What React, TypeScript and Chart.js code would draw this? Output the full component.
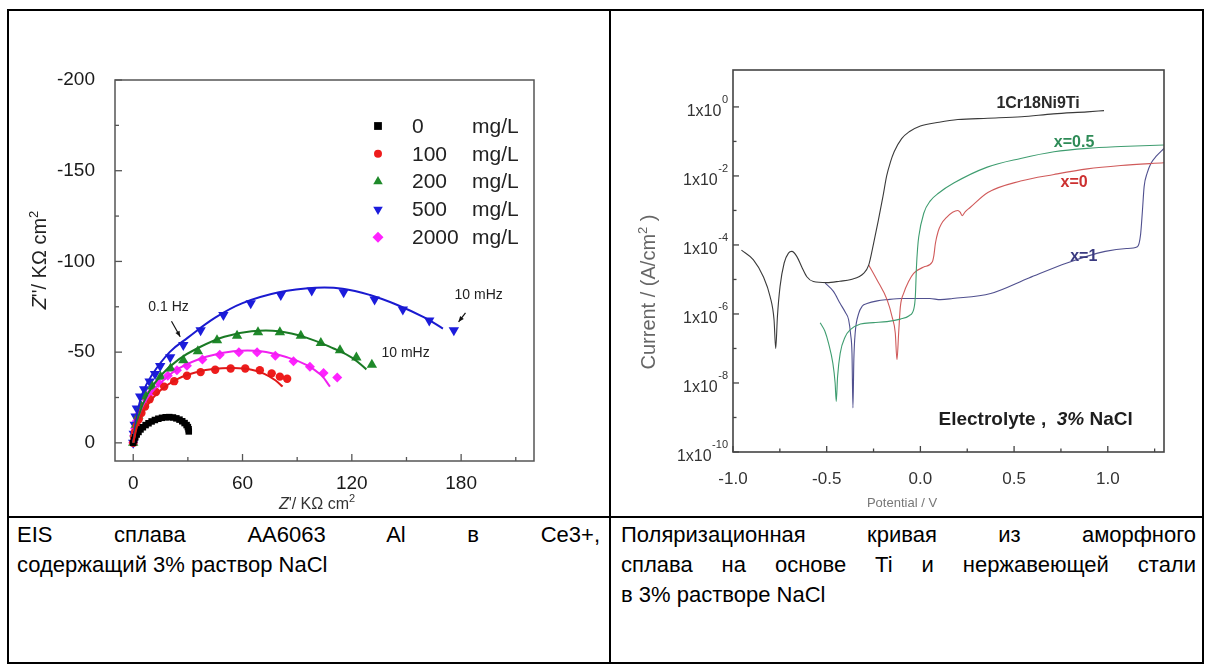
import { useEffect, useRef } from "react";
import { Chart, registerables } from "chart.js";

Chart.register(...registerables);

const FONT = '"Liberation Sans", Arial, Helvetica, sans-serif';

/* ---------------- Left: EIS Nyquist plot ---------------- */
const eisLegendValues = ["0", "100", "200", "500", "2000"];
const eisLegendUnit = "mg/L";
const eisXTicks = [0, 30, 60, 90, 120, 150, 180, 210];
const eisXLabelled = [0, 60, 120, 180];
const eisYTicks = [-200, -175, -150, -125, -100, -75, -50, -25, 0];
const eisYLabelled = [-200, -150, -100, -50, 0];

const eis0Re = [0, 0.5, 1.1, 1.9, 2.9, 4.0, 5.3, 6.8, 8.4, 10.1, 11.9, 13.8, 15.8, 17.8, 19.8, 21.8, 23.7, 25.4, 26.9, 28.2, 29.3, 30.0, 30.4, 30.5];
const eis0Im = [0, -1.6, -3.1, -4.6, -6.0, -7.4, -8.6, -9.8, -10.8, -11.8, -12.6, -13.3, -13.8, -14.1, -14.2, -14.0, -13.5, -12.8, -11.9, -10.9, -9.8, -8.7, -7.5, -6.3];

const eis100Re = [0, 0.5, 1, 2, 3, 4.5, 6.5, 9, 12.5, 17, 22.5, 29.5, 37, 45, 53.5, 61.5, 69.5, 76, 80.5, 84.5];
const eis100Im = [0, -3, -6, -9.5, -13, -16.5, -20, -24, -28, -31, -34, -37, -39, -40.3, -41, -41, -40, -38.3, -36.5, -35.3];
const eis100FitRe = [0, 3, 8, 15, 25, 35, 45, 55, 65, 72, 78, 82];
const eis100FitIm = [0, -12, -21, -29, -35.5, -39, -40.8, -41.2, -40.3, -38, -34.5, -31];

const eis200Re = [0, 0.7, 1.5, 2.8, 4.5, 7, 10.5, 15, 20.5, 27.5, 35.5, 46, 57, 68.5, 80.5, 92, 103, 113.5, 122.5, 131];
const eis200Im = [0, -5, -10, -15, -20, -25.5, -31, -36.5, -41, -45.5, -50.5, -56.5, -59, -61, -61, -59, -55, -51, -47, -43];
const eis200FitRe = [0, 3, 8, 15, 25, 35, 50, 65, 80, 95, 110, 120, 128];
const eis200FitIm = [0, -15, -27, -37, -46, -52, -58.5, -61.5, -61.5, -58, -52, -47, -40.5];

const eis500Re = [0, 0.3, 0.8, 1.3, 2, 3.8, 6, 9, 12, 14.8, 20.3, 27.5, 37, 49.5, 64.5, 81, 98, 115.5, 132.5, 148, 162.5, 176];
const eis500Im = [0, -5, -10, -14.5, -19, -25.5, -29.6, -33.8, -38, -42.4, -47.2, -54, -62, -70.5, -77, -81.5, -84, -83, -79, -73.5, -67.5, -62];
const eis500FitRe = [0, 2, 5, 10, 20, 30, 45, 60, 80, 100, 115, 130, 145, 160, 170];
const eis500FitIm = [0, -15, -27, -37, -50, -58, -69, -77, -83, -85.5, -85, -81.5, -76, -69, -63];

const eis2000Re = [0, 0.5, 1, 2, 3.5, 5, 7, 10, 14, 19, 24, 29.5, 38, 47.5, 58, 68, 78, 88, 97, 104.5, 112];
const eis2000Im = [0, -4, -8, -12, -16, -20, -24, -28, -33, -37, -40, -42.5, -46, -48.5, -50, -50, -48, -45, -42, -38.5, -36];
const eis2000FitRe = [0, 3, 8, 15, 25, 40, 55, 70, 85, 95, 103, 108];
const eis2000FitIm = [0, -15, -25, -33, -41, -47.5, -50.5, -50.5, -47, -43, -37.5, -31];

const eisNoteTexts = ["0.1 Hz", "10 mHz", "10 mHz"];
const eisNoteRe = [19.4, 149.5, 189.6];
const eisNoteIm = [-75, -49.5, -81.5];
const eisArrowFromRe = [21, 182.4];
const eisArrowFromIm = [-67, -71.6];
const eisArrowToRe = [25.8, 178.6];
const eisArrowToIm = [-58.5, -66.7];

/* ---------------- Right: polarization curves ---------------- */
const potXTicks = [-1, -0.75, -0.5, -0.25, 0, 0.25, 0.5, 0.75, 1, 1.25];
const potXLabelled = [-1, -0.5, 0, 0.5, 1];
const potYTickExps = [-10, -9, -8, -7, -6, -5, -4, -3, -2, -1, 0];
const potYLabelExps = [0, -2, -4, -6, -8, -10];

const ssPotential = [-0.955, -0.891, -0.838, -0.802, -0.781, -0.772, -0.763, -0.749, -0.727, -0.704, -0.686, -0.659, -0.633, -0.606, -0.571, -0.5, -0.43, -0.37, -0.303, -0.276, -0.25, -0.225, -0.2, -0.18, -0.16, -0.14, -0.1, -0.06, 0, 0.1, 0.2, 0.36, 0.54, 0.71, 0.89, 0.98];
const ssCurrent = [7.1e-5, 3.7e-5, 1.2e-5, 3.2e-6, 6.8e-7, 1.0e-7, 8.3e-7, 6.2e-6, 3.0e-5, 5.8e-5, 6.5e-5, 4.6e-5, 2.3e-5, 1.2e-5, 8.7e-6, 8.1e-6, 8.9e-6, 1.0e-5, 1.5e-5, 2.6e-5, 1.1e-4, 5.0e-4, 2.5e-3, 1.0e-2, 2.5e-2, 5.0e-2, 0.12, 0.19, 0.28, 0.36, 0.43, 0.47, 0.52, 0.63, 0.72, 0.78];

const x05Potential = [-0.535, -0.51, -0.49, -0.467, -0.455, -0.449, -0.442, -0.428, -0.401, -0.374, -0.32, -0.25, -0.178, -0.107, -0.06, -0.035, -0.027, -0.021, -0.015, -0.009, 0.018, 0.053, 0.098, 0.178, 0.357, 0.535, 0.713, 0.891, 1.07, 1.3];
const x05Current = [5.6e-7, 3.2e-7, 1.4e-7, 3.7e-8, 1.0e-8, 2.9e-9, 1.5e-8, 7.2e-8, 2.2e-7, 3.5e-7, 5.1e-7, 5.6e-7, 6.0e-7, 7.1e-7, 8.9e-7, 1.4e-6, 3.2e-6, 2.3e-5, 7.9e-5, 1.7e-4, 8.3e-4, 1.9e-3, 3.2e-3, 6.2e-3, 1.8e-2, 3.2e-2, 5.0e-2, 6.3e-2, 7.1e-2, 7.9e-2];

const x0Potential = [-0.275, -0.232, -0.178, -0.151, -0.134, -0.125, -0.116, -0.107, -0.089, -0.063, -0.036, 0.018, 0.063, 0.072, 0.08, 0.095, 0.111, 0.14, 0.172, 0.2, 0.212, 0.223, 0.24, 0.264, 0.36, 0.535, 0.713, 0.891, 1.07, 1.3];
const x0Current = [2.6e-5, 9.8e-6, 2.6e-6, 8.3e-7, 2.8e-7, 4.7e-8, 2.8e-7, 1.6e-6, 4.0e-6, 8.7e-6, 1.5e-5, 2.3e-5, 3.2e-5, 5.0e-5, 1.1e-4, 2.5e-4, 4.0e-4, 6.3e-4, 8.9e-4, 1.0e-3, 8.9e-4, 7.1e-4, 9.3e-4, 1.2e-3, 3.3e-3, 7.1e-3, 1.1e-2, 1.6e-2, 2.0e-2, 2.4e-2];

const x1Potential = [-0.508, -0.464, -0.428, -0.4, -0.383, -0.372, -0.365, -0.36, -0.355, -0.348, -0.33, -0.31, -0.285, -0.23, -0.178, -0.1, -0.036, 0.05, 0.107, 0.172, 0.375, 0.579, 0.782, 0.986, 1.1, 1.158, 1.175, 1.185, 1.194, 1.21, 1.23, 1.26, 1.3];
const x1Current = [7.8e-6, 4.5e-6, 2.0e-6, 1.1e-6, 6.8e-7, 2.5e-7, 7.2e-8, 1.9e-9, 5.0e-8, 2.8e-7, 1.0e-6, 1.7e-6, 2.0e-6, 2.4e-6, 2.6e-6, 2.8e-6, 2.8e-6, 2.8e-6, 2.6e-6, 2.8e-6, 3.9e-6, 1.1e-5, 3.0e-5, 6.5e-5, 7.9e-5, 8.9e-5, 2.0e-4, 1.0e-3, 4.9e-3, 1.2e-2, 2.3e-2, 3.8e-2, 6.3e-2];

const potLabelTexts = ["1Cr18Ni9Ti", "x=0.5", "x=0", "x=1"];
const potLabelPotential = [0.628, 0.82, 0.82, 0.872];
const potLabelCurrent = [1.28, 0.093, 6.6e-3, 4.6e-5];
const potNotePotential = 0.615;
const potNoteCurrent = 9.7e-10;

/* ---------------- Captions ---------------- */
const captionLeft = ["EIS сплава AA6063 Al в Ce3+,", "содержащий 3% раствор NaCl"];
const captionRight = [
  "Поляризационная кривая из аморфного",
  "сплава на основе Ti и нержавеющей стали",
  "в 3% растворе NaCl",
];

/* ---------------- helpers ---------------- */
const zip = (xs: number[], ys: number[]) => xs.map((x, i) => ({ x, y: ys[i] }));

function drawMarker(ctx: CanvasRenderingContext2D, style: string, x: number, y: number, r: number, color: string) {
  ctx.save();
  ctx.fillStyle = color;
  ctx.beginPath();
  if (style === "circle") ctx.arc(x, y, r, 0, Math.PI * 2);
  else if (style === "rect") {
    const s = r * 0.78;
    ctx.rect(x - s, y - s, 2 * s, 2 * s);
  } else if (style === "triangle") {
    ctx.moveTo(x, y - r);
    ctx.lineTo(x + r * 0.866, y + r * 0.5);
    ctx.lineTo(x - r * 0.866, y + r * 0.5);
    ctx.closePath();
  } else if (style === "triangleDown") {
    ctx.moveTo(x, y + r);
    ctx.lineTo(x + r * 0.866, y - r * 0.5);
    ctx.lineTo(x - r * 0.866, y - r * 0.5);
    ctx.closePath();
  } else {
    ctx.moveTo(x, y - r);
    ctx.lineTo(x + r, y);
    ctx.lineTo(x, y + r);
    ctx.lineTo(x - r, y);
    ctx.closePath();
  }
  ctx.fill();
  ctx.restore();
}

type Part = { t: string; font: string; dy?: number };
function drawParts(ctx: CanvasRenderingContext2D, parts: Part[], cx: number, baseline: number, color: string) {
  ctx.fillStyle = color;
  ctx.textAlign = "left";
  ctx.textBaseline = "alphabetic";
  let w = 0;
  for (const p of parts) {
    ctx.font = p.font;
    w += ctx.measureText(p.t).width;
  }
  let x = cx - w / 2;
  for (const p of parts) {
    ctx.font = p.font;
    ctx.fillText(p.t, x, baseline + (p.dy || 0));
    x += ctx.measureText(p.t).width;
  }
}

function line(ctx: CanvasRenderingContext2D, x1: number, y1: number, x2: number, y2: number) {
  ctx.beginPath();
  ctx.moveTo(x1, y1);
  ctx.lineTo(x2, y2);
  ctx.stroke();
}

/* ---------------- left chart config ---------------- */
const eisSeries = [
  { re: eis0Re, im: eis0Im, color: "#000000", style: "rect", r: 4.6 },
  { re: eis100Re, im: eis100Im, color: "#ee1c1c", style: "circle", r: 4.2 },
  { re: eis200Re, im: eis200Im, color: "#1f8a2a", style: "triangle", r: 6 },
  { re: eis500Re, im: eis500Im, color: "#1c1cdc", style: "triangleDown", r: 6 },
  { re: eis2000Re, im: eis2000Im, color: "#ff22ff", style: "rectRot", r: 5 },
];
const eisFits = [
  { re: eis100FitRe, im: eis100FitIm, color: "#e01818" },
  { re: eis200FitRe, im: eis200FitIm, color: "#1a7a24" },
  { re: eis500FitRe, im: eis500FitIm, color: "#1a1ad0" },
  { re: eis2000FitRe, im: eis2000FitIm, color: "#f020f0" },
];

function leftConfig(): any {
  const pointStyleOf = (s: string) => (s === "triangleDown" ? "triangle" : s);
  const datasets: any[] = [];
  eisFits.forEach((f) =>
    datasets.push({
      data: zip(f.re, f.im),
      showLine: true,
      borderColor: f.color,
      borderWidth: 2,
      tension: 0.4,
      pointRadius: 0,
      fill: false,
    })
  );
  eisSeries.forEach((s) =>
    datasets.push({
      data: zip(s.re, s.im),
      showLine: false,
      pointStyle: pointStyleOf(s.style),
      pointRotation: s.style === "triangleDown" ? 180 : 0,
      pointRadius: s.r,
      pointBackgroundColor: s.color,
      pointBorderColor: s.color,
      pointBorderWidth: 0,
    })
  );

  const decor = {
    id: "eisDecor",
    afterDraw(chart: any) {
      const { ctx, chartArea: a, scales } = chart;
      const xs = scales.x;
      const ys = scales.y;
      ctx.save();
      ctx.strokeStyle = "#555";
      ctx.lineWidth = 1.5;
      ctx.strokeRect(a.left, a.top, a.right - a.left, a.bottom - a.top);
      ctx.lineWidth = 1.3;
      eisXTicks.forEach((v) => {
        const px = xs.getPixelForValue(v);
        const len = eisXLabelled.includes(v) ? 7 : 4;
        line(ctx, px, a.bottom, px, a.bottom - len);
      });
      eisYTicks.forEach((v) => {
        const py = ys.getPixelForValue(v);
        const len = eisYLabelled.includes(v) ? 7 : 4;
        line(ctx, a.left, py, a.left + len, py);
      });

      // axis titles
      ctx.save();
      ctx.translate(30, 249);
      ctx.rotate(-Math.PI / 2);
      drawParts(
        ctx,
        [
          { t: "Z", font: `italic 20px ${FONT}` },
          { t: "''/ KΩ cm", font: `20px ${FONT}` },
          { t: "2", font: `13px ${FONT}`, dy: -8 },
        ],
        0,
        7,
        "#222"
      );
      ctx.restore();
      drawParts(
        ctx,
        [
          { t: "Z", font: `italic 16px ${FONT}` },
          { t: "'/ KΩ cm", font: `16px ${FONT}` },
          { t: "2", font: `11px ${FONT}`, dy: -7 },
        ],
        308,
        498,
        "#333"
      );

      // legend
      eisSeries.forEach((s, i) => {
        const y = a.top + 46 + i * 27.8;
        drawMarker(ctx, s.style, a.left + 263, y, s.style === "circle" ? 4 : s.style === "rect" ? 5 : 5.5, s.color);
        ctx.fillStyle = "#222";
        ctx.font = `21px ${FONT}`;
        ctx.textAlign = "left";
        ctx.textBaseline = "middle";
        ctx.fillText(eisLegendValues[i], a.left + 297, y + 1);
        ctx.fillText(eisLegendUnit, a.left + 357, y + 1);
      });

      // frequency notes
      ctx.font = `14px ${FONT}`;
      ctx.fillStyle = "#222";
      ctx.textAlign = "center";
      ctx.textBaseline = "middle";
      eisNoteTexts.forEach((t, i) => {
        ctx.fillText(t, xs.getPixelForValue(eisNoteRe[i]), ys.getPixelForValue(eisNoteIm[i]));
      });
      ctx.strokeStyle = "#111";
      ctx.fillStyle = "#111";
      ctx.lineWidth = 1.2;
      eisArrowFromRe.forEach((_, i) => {
        const x1 = xs.getPixelForValue(eisArrowFromRe[i]);
        const y1 = ys.getPixelForValue(eisArrowFromIm[i]);
        const x2 = xs.getPixelForValue(eisArrowToRe[i]);
        const y2 = ys.getPixelForValue(eisArrowToIm[i]);
        line(ctx, x1, y1, x2, y2);
        const ang = Math.atan2(y2 - y1, x2 - x1);
        ctx.beginPath();
        ctx.moveTo(x2, y2);
        ctx.lineTo(x2 - 6 * Math.cos(ang - 0.4), y2 - 6 * Math.sin(ang - 0.4));
        ctx.lineTo(x2 - 6 * Math.cos(ang + 0.4), y2 - 6 * Math.sin(ang + 0.4));
        ctx.closePath();
        ctx.fill();
      });
      ctx.restore();
    },
  };

  return {
    type: "scatter",
    data: { datasets },
    plugins: [decor],
    options: {
      animation: false,
      responsive: false,
      devicePixelRatio: 1,
      events: [],
      layout: { padding: { top: 69, right: 75, left: 0, bottom: 0 } },
      plugins: { legend: { display: false }, tooltip: { enabled: false } },
      scales: {
        x: {
          type: "linear",
          min: -10,
          max: 220,
          grid: { display: false },
          border: { display: false },
          afterBuildTicks: (s: any) => {
            s.ticks = eisXTicks.map((v) => ({ value: v }));
          },
          afterFit: (s: any) => {
            s.height = 55;
          },
          ticks: {
            autoSkip: false,
            maxRotation: 0,
            minRotation: 0,
            padding: 3,
            color: "#1a1a1a",
            font: { family: FONT, size: 19 },
            callback: (v: number) => (eisXLabelled.includes(v) ? String(v) : ""),
          },
        },
        y: {
          type: "linear",
          min: -200,
          max: 10,
          reverse: true,
          grid: { display: false },
          border: { display: false },
          afterBuildTicks: (s: any) => {
            s.ticks = eisYTicks.map((v) => ({ value: v }));
          },
          afterFit: (s: any) => {
            s.width = 106;
          },
          ticks: {
            autoSkip: false,
            padding: 12,
            color: "#1a1a1a",
            font: { family: FONT, size: 19 },
            callback: (v: number) => (eisYLabelled.includes(v) ? String(v) : ""),
          },
        },
      },
    },
  };
}

/* ---------------- right chart config ---------------- */
const potSeries = [
  { v: ssPotential, i: ssCurrent, color: "#3a3a3a" },
  { v: x05Potential, i: x05Current, color: "#3f9d70" },
  { v: x0Potential, i: x0Current, color: "#d05a5a" },
  { v: x1Potential, i: x1Current, color: "#50508f" },
];
const potLabelColors = ["#2a2a2a", "#2e8b57", "#cc3030", "#3a3a80"];

function rightConfig(): any {
  const datasets = potSeries.map((s) => ({
    data: zip(s.v, s.i),
    showLine: true,
    borderColor: s.color,
    borderWidth: 1.1,
    pointRadius: 0,
    cubicInterpolationMode: "monotone",
    fill: false,
  }));

  const decor = {
    id: "potDecor",
    afterDraw(chart: any) {
      const { ctx, chartArea: a, scales } = chart;
      const xs = scales.x;
      const ys = scales.y;
      ctx.save();
      ctx.strokeStyle = "#444";
      ctx.lineWidth = 1.6;
      ctx.strokeRect(a.left, a.top, a.right - a.left, a.bottom - a.top);
      ctx.lineWidth = 1.3;
      potXTicks.forEach((v) => {
        const px = xs.getPixelForValue(v);
        const len = potXLabelled.includes(v) ? 6 : 3.5;
        line(ctx, px, a.bottom, px, a.bottom - len);
      });
      potYTickExps.forEach((e) => {
        const py = ys.getPixelForValue(Math.pow(10, e));
        const len = potYLabelExps.includes(e) ? 6 : 3.5;
        line(ctx, a.left, py, a.left + len, py);
      });

      // y tick labels 1x10^n
      ctx.fillStyle = "#333";
      ctx.textBaseline = "alphabetic";
      potYLabelExps.forEach((e) => {
        const py = ys.getPixelForValue(Math.pow(10, e));
        const right = a.left - 5;
        const sup = String(e);
        ctx.font = `11px ${FONT}`;
        const sw = ctx.measureText(sup).width;
        ctx.textAlign = "left";
        ctx.fillText(sup, right - sw, py - 4);
        ctx.font = `16px ${FONT}`;
        ctx.textAlign = "right";
        ctx.fillText("1x10", right - sw - 0.5, py + 8.7);
      });

      // axis titles
      ctx.save();
      ctx.translate(36, 281);
      ctx.rotate(-Math.PI / 2);
      drawParts(
        ctx,
        [
          { t: "Current / (A/cm", font: `20px ${FONT}` },
          { t: "2", font: `13px ${FONT}`, dy: -8 },
          { t: " )", font: `20px ${FONT}` },
        ],
        0,
        7,
        "#666"
      );
      ctx.restore();
      drawParts(ctx, [{ t: "Potential / V", font: `13px ${FONT}` }], 290, 496, "#777");

      // curve labels
      ctx.textAlign = "center";
      ctx.textBaseline = "middle";
      potLabelTexts.forEach((t, k) => {
        ctx.font = `bold 16px ${FONT}`;
        ctx.fillStyle = potLabelColors[k];
        ctx.fillText(t, xs.getPixelForValue(potLabelPotential[k]), ys.getPixelForValue(potLabelCurrent[k]));
      });
      drawParts(
        ctx,
        [
          { t: "Electrolyte ,  ", font: `bold 19px ${FONT}` },
          { t: "3%", font: `italic bold 19px ${FONT}` },
          { t: " NaCl", font: `bold 19px ${FONT}` },
        ],
        xs.getPixelForValue(potNotePotential),
        ys.getPixelForValue(potNoteCurrent) + 7,
        "#1e1e1e"
      );
      ctx.restore();
    },
  };

  return {
    type: "scatter",
    data: { datasets },
    plugins: [decor],
    options: {
      animation: false,
      responsive: false,
      devicePixelRatio: 1,
      events: [],
      layout: { padding: { top: 59, right: 38, left: 0, bottom: 0 } },
      plugins: { legend: { display: false }, tooltip: { enabled: false } },
      scales: {
        x: {
          type: "linear",
          min: -1.0,
          max: 1.3,
          grid: { display: false },
          border: { display: false },
          afterBuildTicks: (s: any) => {
            s.ticks = potXTicks.map((v) => ({ value: v }));
          },
          afterFit: (s: any) => {
            s.height = 64;
          },
          ticks: {
            autoSkip: false,
            maxRotation: 0,
            minRotation: 0,
            padding: 9,
            color: "#333",
            font: { family: FONT, size: 17 },
            callback: (v: number) => (potXLabelled.includes(v) ? v.toFixed(1) : ""),
          },
        },
        y: {
          type: "logarithmic",
          min: 1e-10,
          max: Math.pow(10, 1.07),
          grid: { display: false },
          border: { display: false },
          afterBuildTicks: (s: any) => {
            s.ticks = potYTickExps.map((e) => ({ value: Math.pow(10, e) }));
          },
          afterFit: (s: any) => {
            s.width = 121;
          },
          ticks: { display: false },
        },
      },
    },
  };
}

/* ---------------- component ---------------- */
const captionBase: any = {
  position: "absolute",
  fontFamily: FONT,
  fontSize: 22,
  lineHeight: "32px",
  color: "#000",
  whiteSpace: "nowrap",
};

function CaptionLines({ lines, left, width, top }: { lines: string[]; left: number; width: number; top: number }) {
  return (
    <>
      {lines.map((t, i) => {
        const last = i === lines.length - 1;
        return (
          <div
            key={i}
            style={{
              ...captionBase,
              left,
              width,
              top: top + i * 30,
              textAlign: last ? "left" : "justify",
              textAlignLast: last ? "left" : "justify",
            }}
          >
            {t}
          </div>
        );
      })}
    </>
  );
}

export default function App() {
  const leftRef = useRef<HTMLCanvasElement>(null);
  const rightRef = useRef<HTMLCanvasElement>(null);

  useEffect(() => {
    const c1 = new Chart(leftRef.current as HTMLCanvasElement, leftConfig());
    const c2 = new Chart(rightRef.current as HTMLCanvasElement, rightConfig());
    return () => {
      c1.destroy();
      c2.destroy();
    };
  }, []);

  const bar = (l: number, t: number, w: number, h: number): any => ({
    position: "absolute",
    left: l,
    top: t,
    width: w,
    height: h,
    background: "#000",
  });

  return (
    <div style={{ position: "absolute", left: 0, top: 0, width: 1206, height: 666, background: "#fff", overflow: "hidden" }}>
      <canvas ref={leftRef} width={600} height={505} style={{ position: "absolute", left: 9, top: 11, width: 600, height: 505 }} />
      <canvas ref={rightRef} width={590} height={505} style={{ position: "absolute", left: 612, top: 11, width: 590, height: 505 }} />
      <div style={bar(7, 9, 1197, 2)} />
      <div style={bar(7, 662, 1197, 2)} />
      <div style={bar(7, 9, 2, 655)} />
      <div style={bar(1202, 9, 2, 655)} />
      <div style={bar(609, 9, 2, 655)} />
      <div style={bar(7, 516, 1197, 2)} />
      <CaptionLines lines={captionLeft} left={17} width={583} top={519} />
      <CaptionLines lines={captionRight} left={621} width={575} top={519} />
    </div>
  );
}
